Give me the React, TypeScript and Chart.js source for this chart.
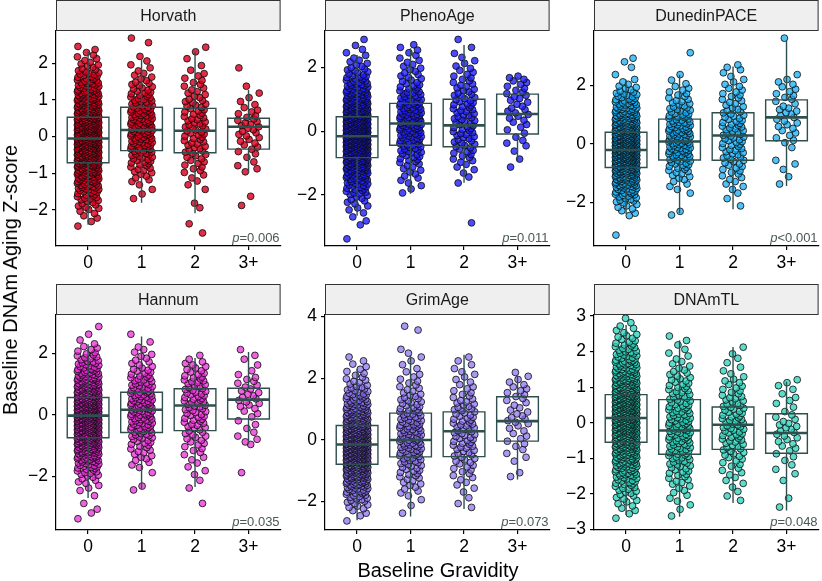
import { useEffect, useRef } from "react";
import { Chart, registerables } from "chart.js";

Chart.register(...registerables);

const FONT = "'Liberation Sans', Arial, sans-serif";

// categories on the x axis
const GROUPS = ["0", "1", "2", "3+"];

// every histogram below counts points per 0.25-wide bin, first bin starts at -3.5
const BIN_START = -3.5;
const BIN_WIDTH = 0.25;

// fixed horizontal jitter offsets (in category units)
const JITTER = [-0.19, 0.06, 0.17, -0.08, 0.12, -0.15, 0.01, 0.2, -0.04, -0.18, 0.14, -0.11, 0.09, -0.01, 0.19, -0.13, 0.04, -0.06, 0.16, -0.2, 0.1, -0.03, 0.13];

// Horvath
const HORVATH_0 = [0, 0, 0, 0, 2, 4, 8, 12, 18, 24, 30, 36, 40, 44, 44, 40, 34, 30, 24, 18, 14, 8, 5, 3, 0, 0, 0, 0, 0];
const HORVATH_1 = [0, 0, 0, 0, 0, 0, 0, 2, 2, 5, 8, 11, 14, 17, 18, 18, 17, 14, 11, 8, 5, 3, 2, 0, 2, 0, 0, 0, 0];
const HORVATH_2 = [0, 0, 0, 1, 1, 0, 2, 0, 2, 3, 5, 6, 8, 8, 9, 9, 8, 8, 6, 5, 4, 2, 1, 2, 0, 0, 0, 0, 0];
const HORVATH_3 = [0, 0, 0, 0, 0, 0, 1, 1, 0, 0, 3, 2, 4, 5, 6, 7, 5, 3, 2, 1, 0, 1, 0, 0, 0, 0, 0, 0, 0];
// [lower whisker, q1, median, q3, upper whisker] per group
const HORVATH_BOX = [[-2.4, -0.71, -0.05, 0.53, 2.32], [-1.8, -0.38, 0.18, 0.8, 2.1], [-2.09, -0.44, 0.16, 0.77, 2.32], [-1.0, -0.34, 0.27, 0.5, 1.27]];
const HORVATH_RANGE = [-2.98, 2.88];
const HORVATH_TICKS = [-2, -1, 0, 1, 2];

// PhenoAge
const PHENO_0 = [1, 0, 2, 2, 4, 6, 10, 14, 20, 26, 32, 38, 44, 46, 44, 40, 34, 28, 22, 16, 12, 8, 5, 3, 2, 1, 0, 0, 0];
const PHENO_1 = [0, 0, 0, 0, 0, 0, 2, 3, 4, 5, 8, 10, 12, 14, 16, 16, 15, 13, 11, 8, 6, 5, 4, 3, 3, 0, 0, 0, 0];
const PHENO_2 = [0, 0, 1, 0, 0, 0, 0, 1, 2, 3, 5, 6, 7, 8, 8, 8, 8, 8, 7, 6, 5, 4, 3, 2, 1, 1, 0, 0, 0];
const PHENO_3 = [0, 0, 0, 0, 0, 0, 0, 0, 0, 1, 1, 1, 3, 2, 3, 4, 5, 4, 5, 4, 5, 0, 0, 0, 0, 0, 0, 0, 0];
const PHENO_BOX = [[-2.65, -0.83, -0.16, 0.45, 2.39], [-1.96, -0.44, 0.24, 0.87, 2.6], [-1.62, -0.49, 0.18, 1.0, 2.7], [-0.96, -0.09, 0.54, 1.16, 1.7]];
const PHENO_RANGE = [-3.6, 3.14];
const PHENO_TICKS = [-2, 0, 2];

// DunedinPACE
const DUNEDIN_0 = [0, 1, 0, 0, 3, 5, 9, 14, 20, 26, 33, 40, 45, 46, 44, 38, 32, 25, 19, 14, 10, 6, 3, 1, 1, 2, 0, 0, 0];
const DUNEDIN_1 = [0, 0, 0, 0, 2, 0, 0, 2, 3, 5, 7, 10, 13, 14, 16, 15, 14, 11, 9, 7, 5, 4, 2, 1, 0, 0, 1, 0, 0];
const DUNEDIN_2 = [0, 0, 0, 0, 0, 1, 1, 2, 3, 4, 5, 6, 7, 7, 8, 8, 8, 7, 6, 5, 5, 4, 3, 2, 3, 0, 0, 0, 0];
const DUNEDIN_3 = [0, 0, 0, 0, 0, 0, 0, 0, 1, 1, 1, 2, 0, 1, 3, 3, 4, 4, 5, 3, 4, 3, 3, 1, 0, 0, 0, 0, 1];
const DUNEDIN_BOX = [[-2.4, -0.81, -0.21, 0.4, 2.2], [-2.38, -0.55, 0.08, 0.85, 2.37], [-2.24, -0.56, 0.29, 1.07, 2.65], [-1.44, 0.11, 0.91, 1.51, 3.54]];
const DUNEDIN_RANGE = [-3.5, 3.87];
const DUNEDIN_TICKS = [-2, 0, 2];

// Hannum
const HANNUM_0 = [1, 2, 1, 1, 3, 5, 9, 14, 20, 27, 33, 39, 43, 46, 46, 42, 36, 30, 24, 17, 12, 8, 5, 2, 1, 1, 0, 0, 0];
const HANNUM_1 = [0, 0, 0, 0, 2, 0, 1, 3, 5, 6, 8, 11, 13, 14, 16, 16, 14, 12, 10, 8, 5, 4, 3, 1, 1, 0, 0, 0, 0];
const HANNUM_2 = [0, 0, 1, 0, 1, 1, 2, 2, 3, 4, 5, 6, 7, 8, 8, 9, 9, 8, 8, 6, 5, 2, 0, 0, 0, 0, 0, 0, 0];
const HANNUM_3 = [0, 0, 0, 0, 0, 0, 1, 0, 0, 0, 3, 2, 2, 2, 3, 5, 5, 4, 4, 2, 1, 2, 1, 0, 0, 0, 0, 0, 0];
const HANNUM_BOX = [[-2.7, -0.74, -0.02, 0.57, 2.3], [-2.4, -0.57, 0.17, 0.74, 2.55], [-2.34, -0.51, 0.31, 0.85, 1.85], [-0.95, -0.13, 0.5, 0.87, 2.05]];
const HANNUM_RANGE = [-3.74, 3.25];
const HANNUM_TICKS = [-2, 0, 2];

// GrimAge
const GRIM_0 = [0, 0, 0, 1, 3, 6, 10, 15, 21, 28, 35, 42, 46, 47, 43, 37, 30, 24, 18, 13, 9, 6, 4, 3, 2, 0, 0, 0, 0];
const GRIM_1 = [0, 0, 0, 0, 1, 1, 2, 4, 5, 7, 8, 10, 12, 13, 13, 13, 11, 10, 8, 7, 5, 4, 3, 2, 2, 2, 0, 0, 2];
const GRIM_2 = [0, 0, 0, 0, 0, 2, 1, 2, 3, 4, 5, 6, 7, 8, 8, 8, 8, 7, 7, 5, 4, 3, 3, 2, 2, 0, 0, 0, 0];
const GRIM_3 = [0, 0, 0, 0, 0, 0, 0, 0, 0, 2, 0, 2, 2, 3, 3, 3, 5, 4, 3, 4, 4, 3, 2, 0, 0, 0, 0, 0, 0];
const GRIM_BOX = [[-2.6, -0.79, -0.15, 0.47, 2.3], [-2.48, -0.55, 0.0, 0.87, 2.75], [-2.24, -0.54, 0.28, 0.91, 2.76], [-1.28, -0.04, 0.61, 1.4, 2.05]];
const GRIM_RANGE = [-2.92, 4.05];
const GRIM_TICKS = [-2, 0, 2, 4];

// DNAmTL
const TL_0 = [0, 0, 0, 2, 4, 6, 9, 13, 18, 23, 28, 33, 38, 42, 45, 45, 42, 37, 31, 25, 19, 14, 10, 7, 4, 2, 0, 0, 0];
const TL_1 = [0, 0, 0, 1, 2, 3, 4, 6, 8, 10, 12, 13, 14, 15, 13, 12, 10, 9, 8, 6, 4, 3, 2, 2, 0, 0, 0, 0, 0];
const TL_2 = [0, 0, 0, 0, 0, 2, 2, 3, 4, 5, 7, 8, 10, 10, 10, 9, 8, 6, 5, 3, 2, 2, 1, 0, 0, 0, 0, 0, 0];
const TL_3 = [0, 0, 0, 0, 1, 1, 0, 1, 2, 2, 3, 4, 5, 6, 4, 2, 3, 2, 3, 0, 0, 0, 0, 0, 0, 0, 0, 0, 0];
const TL_BOX = [[-2.6, -0.55, 0.13, 0.79, 2.75], [-2.65, -0.89, -0.22, 0.65, 2.32], [-2.26, -0.75, -0.06, 0.44, 2.13], [-2.47, -0.86, -0.29, 0.25, 1.15]];
const TL_RANGE = [-3.02, 3.03];
const TL_TICKS = [-3, -2, -1, 0, 1, 2, 3];

// layout
const STRIP_H = 31;
const PLOT_H = 215;
const PLOT_W = 227;
const Y_AXIS_W = 45;
const X_AXIS_H = 34;
const COL_LEFT = [56, 325, 594];
const ROW_TOP = [0, 284];
const BOX_HALF = 0.39;
const BOX_COLOR = "#2f4f4f";

const PANELS = [
  { title: "Horvath", hist: [HORVATH_0, HORVATH_1, HORVATH_2, HORVATH_3], box: HORVATH_BOX, range: HORVATH_RANGE, ticks: HORVATH_TICKS, p: "p=0.006", fill: "rgba(218, 0, 32, 0.82)", col: 0, row: 0 },
  { title: "PhenoAge", hist: [PHENO_0, PHENO_1, PHENO_2, PHENO_3], box: PHENO_BOX, range: PHENO_RANGE, ticks: PHENO_TICKS, p: "p=0.011", fill: "rgba(30, 30, 250, 0.8)", col: 1, row: 0 },
  { title: "DunedinPACE", hist: [DUNEDIN_0, DUNEDIN_1, DUNEDIN_2, DUNEDIN_3], box: DUNEDIN_BOX, range: DUNEDIN_RANGE, ticks: DUNEDIN_TICKS, p: "p<0.001", fill: "rgba(15, 170, 242, 0.72)", col: 2, row: 0 },
  { title: "Hannum", hist: [HANNUM_0, HANNUM_1, HANNUM_2, HANNUM_3], box: HANNUM_BOX, range: HANNUM_RANGE, ticks: HANNUM_TICKS, p: "p=0.035", fill: "rgba(232, 40, 212, 0.72)", col: 0, row: 1 },
  { title: "GrimAge", hist: [GRIM_0, GRIM_1, GRIM_2, GRIM_3], box: GRIM_BOX, range: GRIM_RANGE, ticks: GRIM_TICKS, p: "p=0.073", fill: "rgba(130, 105, 238, 0.68)", col: 1, row: 1 },
  { title: "DNAmTL", hist: [TL_0, TL_1, TL_2, TL_3], box: TL_BOX, range: TL_RANGE, ticks: TL_TICKS, p: "p=0.048", fill: "rgba(40, 208, 185, 0.75)", col: 2, row: 1 },
];

type PanelSpec = (typeof PANELS)[number];

// expand the per-bin counts into points, jittered sideways
function buildPoints(hist: number[][]) {
  const pts: { x: number; y: number }[] = [];
  hist.forEach((counts, g) => {
    let c = g * 5;
    counts.forEach((n, b) => {
      const lo = BIN_START + b * BIN_WIDTH;
      for (let k = 0; k < n; k++) {
        pts.push({ x: g + JITTER[c % JITTER.length], y: lo + (BIN_WIDTH * (k + 0.5)) / n });
        c++;
      }
    });
  });
  return pts;
}

const decorPlugin = {
  id: "decor",
  afterDatasetsDraw(chart: any, _args: any, opts: any) {
    const { ctx, chartArea } = chart;
    const x = chart.scales.x;
    const y = chart.scales.y;
    ctx.save();
    ctx.strokeStyle = BOX_COLOR;
    opts.box.forEach((b: number[], g: number) => {
      const cx = x.getPixelForValue(g);
      const x0 = x.getPixelForValue(g - BOX_HALF);
      const x1 = x.getPixelForValue(g + BOX_HALF);
      const [lo, q1, med, q3, hi] = b.map((v) => y.getPixelForValue(v));
      ctx.lineWidth = 1.4;
      ctx.beginPath();
      ctx.moveTo(cx, hi);
      ctx.lineTo(cx, q3);
      ctx.moveTo(cx, q1);
      ctx.lineTo(cx, lo);
      ctx.rect(x0, q3, x1 - x0, q1 - q3);
      ctx.stroke();
      ctx.lineWidth = 2.6;
      ctx.beginPath();
      ctx.moveTo(x0, med);
      ctx.lineTo(x1, med);
      ctx.stroke();
    });

    // p-value, italic p
    const label: string = opts.p;
    const rest = label.slice(1);
    ctx.fillStyle = "#4a5858";
    ctx.textBaseline = "alphabetic";
    ctx.textAlign = "left";
    ctx.font = `13px ${FONT}`;
    const wRest = ctx.measureText(rest).width;
    ctx.font = `italic 13px ${FONT}`;
    const wP = ctx.measureText("p").width;
    const px = chartArea.right - 1 - wRest - wP;
    const py = chartArea.bottom - 4;
    ctx.fillText("p", px, py);
    ctx.font = `13px ${FONT}`;
    ctx.fillText(rest, px + wP, py);
    ctx.restore();
  },
  afterDraw(chart: any, _args: any, opts: any) {
    const { ctx, chartArea } = chart;
    ctx.save();
    const w = chartArea.right - chartArea.left;
    ctx.fillStyle = "#efefef";
    ctx.fillRect(chartArea.left, 0, w, chartArea.top);
    ctx.strokeStyle = "#333333";
    ctx.lineWidth = 1;
    ctx.strokeRect(chartArea.left + 0.5, 0.5, w - 1, chartArea.top - 1);
    ctx.fillStyle = "#1a1a1a";
    ctx.font = `16px ${FONT}`;
    ctx.textAlign = "center";
    ctx.textBaseline = "middle";
    ctx.fillText(opts.title, chartArea.left + w / 2, chartArea.top / 2 + 1);
    ctx.restore();
  },
};

const axisFont = { family: FONT, size: 17.5 };

function Panel({ spec }: { spec: PanelSpec }) {
  const canvasRef = useRef<HTMLCanvasElement>(null);

  useEffect(() => {
    if (!canvasRef.current) return;
    const chart = new Chart(canvasRef.current, {
      type: "scatter",
      data: {
        datasets: [
          {
            data: buildPoints(spec.hist),
            backgroundColor: spec.fill,
            borderColor: "rgba(10, 10, 10, 0.8)",
            borderWidth: 1,
            pointRadius: 3.4,
            pointHoverRadius: 3.4,
          },
        ],
      },
      options: {
        animation: false,
        responsive: true,
        maintainAspectRatio: false,
        layout: { padding: { top: STRIP_H, right: 2, left: 0, bottom: 0 } },
        plugins: {
          legend: { display: false },
          tooltip: { enabled: false },
          decor: { box: spec.box, p: spec.p, title: spec.title },
        } as any,
        scales: {
          x: {
            type: "linear",
            min: -0.6,
            max: 3.6,
            afterBuildTicks: (scale: any) => {
              scale.ticks = GROUPS.map((_, i) => ({ value: i }));
            },
            afterFit: (scale: any) => {
              scale.height = X_AXIS_H;
            },
            ticks: {
              callback: (v: any) => GROUPS[v],
              font: axisFont,
              color: "#000",
              padding: 3,
              maxRotation: 0,
            },
            grid: { display: true, drawOnChartArea: false, drawTicks: true, tickLength: 4, color: "#000", tickColor: "#000", lineWidth: 1.2 },
            border: { display: true, color: "#000", width: 1.2 },
          },
          y: {
            type: "linear",
            min: spec.range[0],
            max: spec.range[1],
            afterBuildTicks: (scale: any) => {
              scale.ticks = spec.ticks.map((v) => ({ value: v }));
            },
            afterFit: (scale: any) => {
              scale.width = Y_AXIS_W;
            },
            ticks: {
              callback: (v: any) => (v < 0 ? "\u2212" + Math.abs(v) : String(v)),
              font: axisFont,
              color: "#000",
              padding: 4,
            },
            grid: { display: true, drawOnChartArea: false, drawTicks: true, tickLength: 4, color: "#000", tickColor: "#000", lineWidth: 1.2 },
            border: { display: true, color: "#000", width: 1.2 },
          },
        },
      },
      plugins: [decorPlugin as any],
    });
    return () => chart.destroy();
  }, [spec]);

  return (
    <div
      style={{
        position: "absolute",
        left: COL_LEFT[spec.col] - Y_AXIS_W,
        top: ROW_TOP[spec.row],
        width: Y_AXIS_W + PLOT_W + 2,
        height: STRIP_H + PLOT_H + X_AXIS_H,
      }}
    >
      <canvas ref={canvasRef}></canvas>
    </div>
  );
}

export default function App() {
  return (
    <div style={{ position: "fixed", left: 0, top: 0, width: 822, height: 581, background: "#fff", overflow: "hidden", fontFamily: FONT }}>
      {PANELS.map((spec) => (
        <Panel key={spec.title} spec={spec} />
      ))}
      <div
        style={{
          position: "absolute",
          left: 10,
          top: 280,
          transform: "translate(-50%, -50%) rotate(-90deg)",
          fontSize: 20,
          lineHeight: 1,
          whiteSpace: "nowrap",
          color: "#000",
        }}
      >
        Baseline DNAm Aging Z-score
      </div>
      <div
        style={{
          position: "absolute",
          left: 438,
          top: 570,
          transform: "translate(-50%, -50%)",
          fontSize: 20,
          lineHeight: 1,
          whiteSpace: "nowrap",
          color: "#000",
        }}
      >
        Baseline Gravidity
      </div>
    </div>
  );
}
